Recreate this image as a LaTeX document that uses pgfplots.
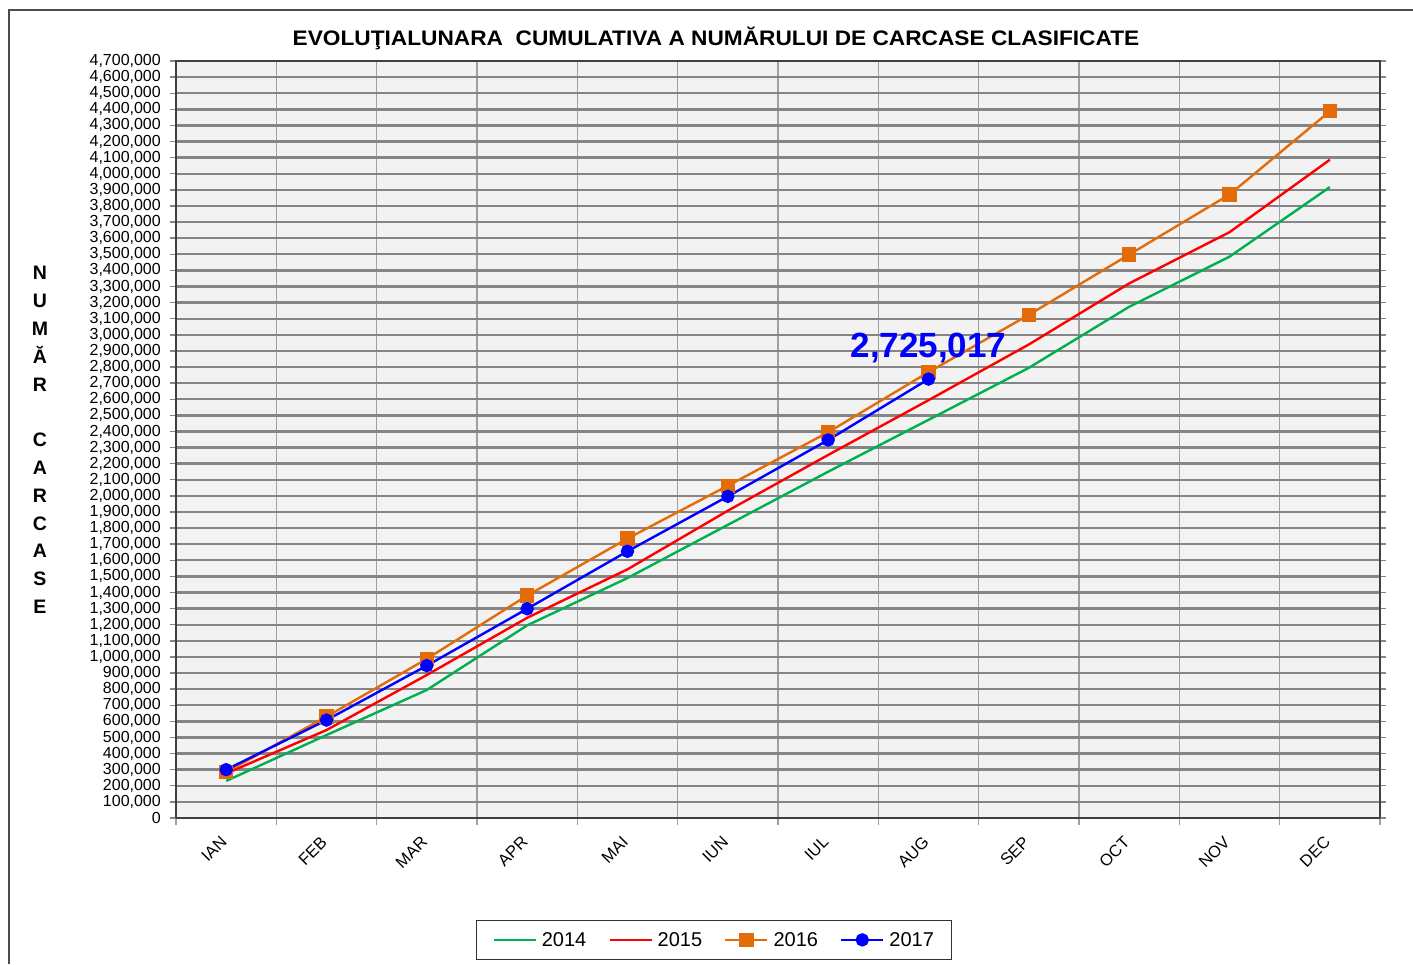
\documentclass[border=0pt]{standalone}
\usepackage{fontspec}
\setmainfont{Liberation Sans}
\usepackage{pgfplots}
\pgfplotsset{compat=1.18}
\definecolor{cgreen}{HTML}{00B050}
\definecolor{cred}{HTML}{FF0000}
\definecolor{corange}{HTML}{E36C09}
\definecolor{cblue}{HTML}{0000FF}
\definecolor{bgc}{HTML}{F2F2F2}
\definecolor{hgrid}{HTML}{858585}
\definecolor{vgrid}{HTML}{A0A0A0}
\begin{document}
\begin{tikzpicture}[x=1pt,y=1pt]
\path[use as bounding box] (0,0) rectangle (1413,964);
\draw[line width=2pt, black!70] (9,0) -- (9,954) -- (1413,954);
\node[font=\bfseries\fontsize{21}{21}\selectfont] at (716,926) {\scalebox{1.08}[1]{EVOLUŢIALUNARA\ \ CUMULATIVA A NUMĂRULUI DE CARCASE CLASIFICATE}};
\node[font=\bfseries\fontsize{19.5}{27.8}\selectfont, align=center] at (40,524) {N\\U\\M\\Ă\\R\\ \\C\\A\\R\\C\\A\\S\\E};
\begin{axis}[
  at={(176pt,146pt)}, anchor=south west, scale only axis,
  width=1204pt, height=757pt,
  xmin=-0.5, xmax=11.5, ymin=0, ymax=4700000,
  axis background/.style={fill=bgc},
  xtick={0,1,2,3,4,5,6,7,8,9,10,11},
  xticklabels={IAN,FEB,MAR,APR,MAI,IUN,IUL,AUG,SEP,OCT,NOV,DEC},
  major x tick style={draw=none},
  minor xtick={-0.5,0.5,1.5,2.5,3.5,4.5,5.5,6.5,7.5,8.5,9.5,10.5,11.5},
  xminorgrids, minor x grid style={vgrid, line width=1.4pt},
  minor x tick style={vgrid, line width=1.4pt},
  ytick distance=100000,
  ymajorgrids, major y grid style={hgrid, line width=2.4pt},
  major y tick style={hgrid, line width=1.4pt},
  tick align=outside, major tick length=6pt, minor tick length=7pt,
  scaled y ticks=false,
  yticklabel style={font=\fontsize{16}{16}\selectfont, inner sep=2pt, xshift=-7pt,
     /pgf/number format/fixed, /pgf/number format/1000 sep={,}, /pgf/number format/assume math mode=true},
  xticklabel style={font=\fontsize{16.5}{16.5}\selectfont, yshift=-13pt, rotate=45, anchor=east},
  axis line style={black!75, line width=1.5pt},
  axis x line*=bottom,
  legend style={at={(0.447,-0.161)}, anchor=center, legend columns=4, draw=black!80, line width=1pt,
     font=\fontsize{20}{20}\selectfont, inner xsep=16pt, inner ysep=10pt,
     /tikz/every even column/.append style={column sep=20pt}},
  legend image code/.code={\draw[mark repeat=2,mark phase=2] plot coordinates {(0pt,0pt)(21pt,0pt)(42pt,0pt)};},
  clip=false,
]
\addplot[cgreen, line width=2.4pt, no marks] coordinates {
(0,230000)(1,515000)(2,795000)(3,1196000)(4,1490000)(5,1820000)(6,2150000)(7,2472000)(8,2795000)(9,3174000)(10,3485000)(11,3917000)};
\addlegendentry{\hspace{3pt}2014}
\addplot[cred, line width=2.4pt, no marks] coordinates {
(0,276000)(1,546000)(2,888000)(3,1243000)(4,1544000)(5,1908000)(6,2254000)(7,2594000)(8,2940000)(9,3319000)(10,3637000)(11,4087000)};
\addlegendentry{\hspace{3pt}2015}
\addplot[corange, line width=2.4pt, mark=square*, mark size=6pt, mark options={solid, fill=corange}] coordinates {
(0,285000)(1,629000)(2,988000)(3,1381000)(4,1735000)(5,2063000)(6,2395000)(7,2768000)(8,3124000)(9,3498000)(10,3871000)(11,4388000)};
\addlegendentry{\hspace{3pt}2016}
\addplot[cblue, line width=2.4pt, mark=*, mark size=5.5pt, mark options={solid, fill=cblue}] coordinates {
(0,300000)(1,608000)(2,946000)(3,1299000)(4,1656000)(5,1997000)(6,2347000)(7,2725017)};
\addlegendentry{\hspace{3pt}2017}
\node[font=\bfseries\fontsize{35}{35}\selectfont, text=cblue, anchor=base] at (axis cs:7,2725017) [yshift=22pt] {2,725,017};
\draw[black!75, line width=1.5pt] (rel axis cs:0,0) -- (rel axis cs:0,1) -- (rel axis cs:1,1) -- (rel axis cs:1,0);
\end{axis}
\end{tikzpicture}
\end{document}
